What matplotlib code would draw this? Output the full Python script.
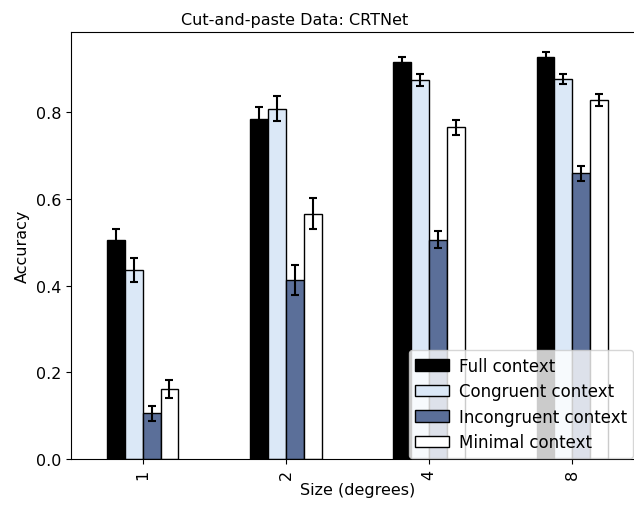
import matplotlib
matplotlib.use("Agg")
import matplotlib.pyplot as plt
import numpy as np

sizes = ["1", "2", "4", "8"]
labels = ["Full context", "Congruent context", "Incongruent context", "Minimal context"]
full = [0.505, 0.784, 0.915, 0.928]
full_err = [0.026, 0.028, 0.012, 0.010]
congruent = [0.436, 0.808, 0.874, 0.877]
congruent_err = [0.027, 0.029, 0.014, 0.012]
incongruent = [0.105, 0.413, 0.506, 0.659]
incongruent_err = [0.018, 0.035, 0.019, 0.017]
minimal = [0.161, 0.566, 0.765, 0.828]
minimal_err = [0.021, 0.035, 0.018, 0.014]

colors = ["black", "#dbe8f7", "#5b6f99", "white"]
series = [full, congruent, incongruent, minimal]
errors = [full_err, congruent_err, incongruent_err, minimal_err]

plt.rcParams["font.size"] = 11.5
fig = plt.figure(figsize=(6.34, 5.06), dpi=100)
ax = fig.add_axes([0.112, 0.0909, 0.9038, 0.8439])

x = np.arange(len(sizes))
w = 0.125
for i in range(4):
    ax.bar(x + (i - 1.5) * w, series[i], w, yerr=errors[i], color=colors[i],
           edgecolor="black", linewidth=1, label=labels[i],
           error_kw=dict(ecolor="black", elinewidth=1.5, capsize=3, capthick=1.5))

ax.set_xticks(x)
ax.set_xticklabels(sizes, rotation=90)
ax.set_xlim(-0.5, 3.5)
ax.set_xlabel("Size (degrees)", labelpad=2)
ax.set_ylabel("Accuracy")
ax.set_title("Cut-and-paste Data: CRTNet", fontsize=11.5, x=0.39)
ax.legend(loc="lower right", bbox_to_anchor=(0.999, 0.093), bbox_transform=fig.transFigure,
          borderaxespad=0, handletextpad=0.6, fontsize=12, labelspacing=0.45)

fig.savefig("out.png", dpi=100)
